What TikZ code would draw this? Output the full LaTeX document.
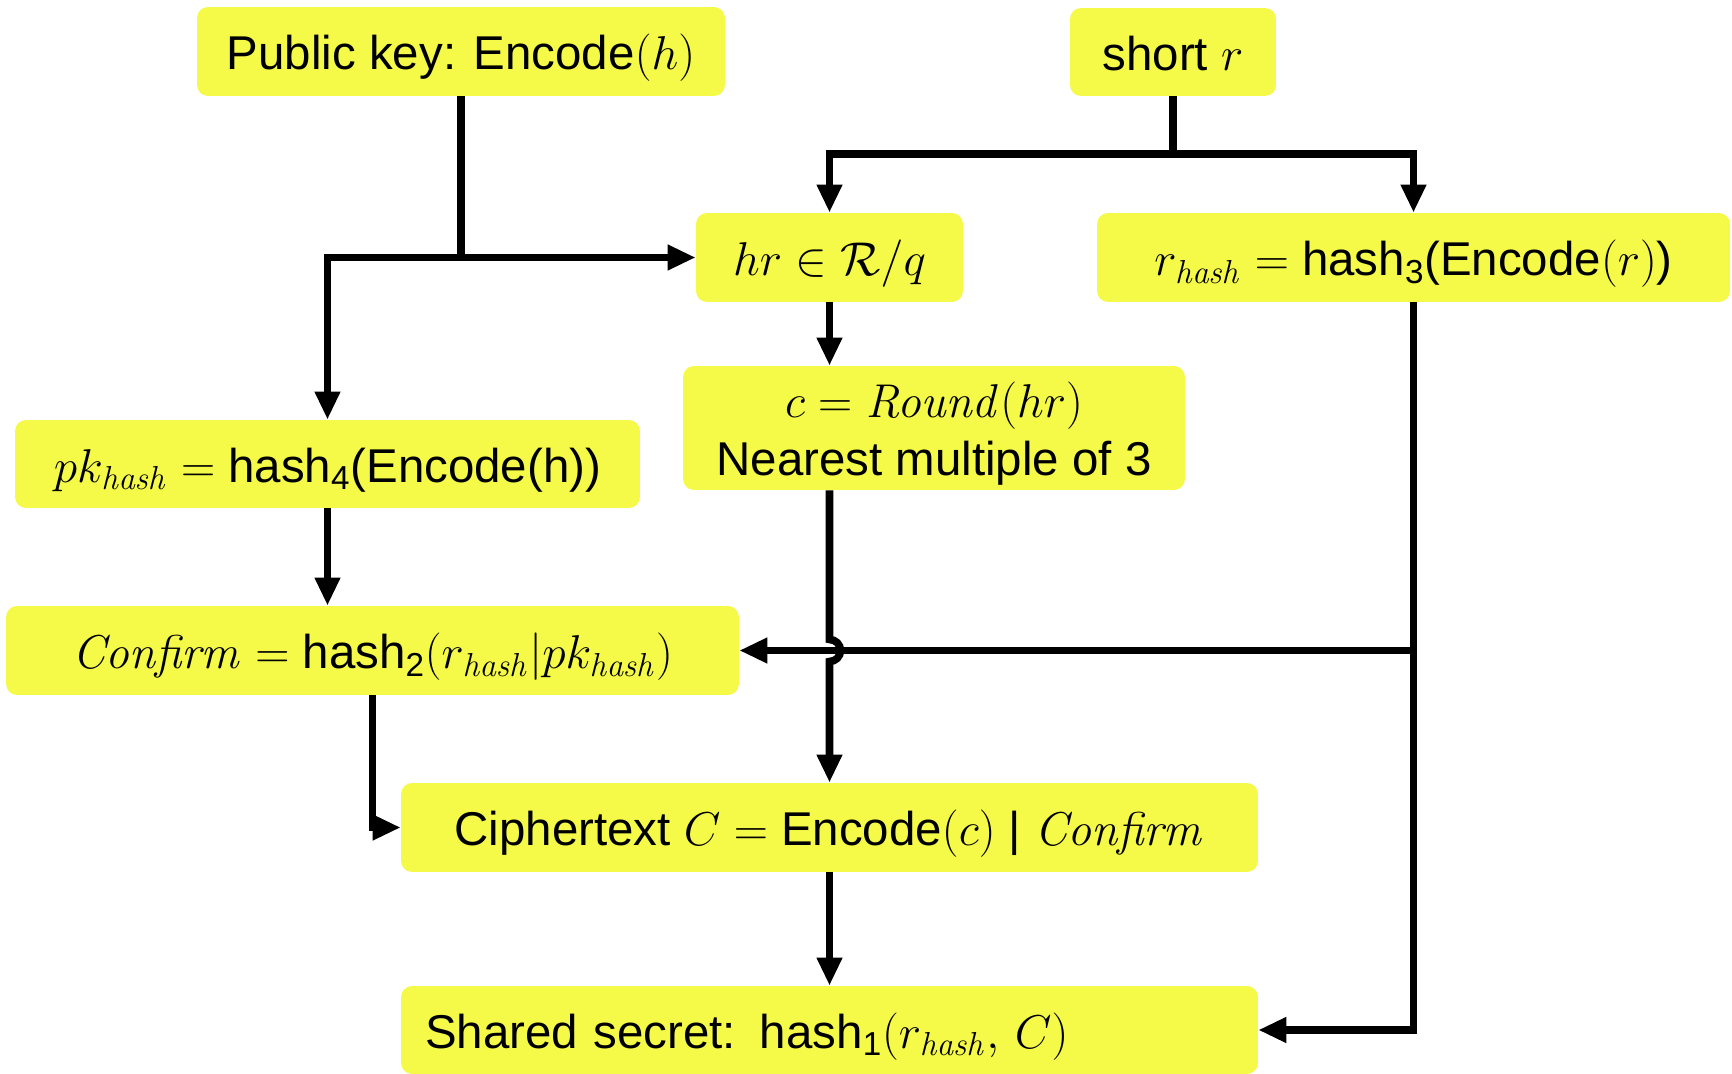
\RequirePackage{fix-cm}
\documentclass[tikz,border=0pt]{standalone}
\usepackage[no-math]{fontspec}
\setmainfont{Liberation Sans}
\usetikzlibrary{arrows.meta}
\definecolor{boxy}{RGB}{245,250,72}
\tikzset{
  box/.style={fill=boxy, rounded corners=0.22cm, inner sep=0pt, align=center,
    font=\fontsize{27}{33}\selectfont, text height=24pt, text depth=3pt},
  wire/.style={line width=4.3pt, draw=black},
  conn/.style={wire, -{Triangle[length=0.56cm,width=0.48cm]}},
  conn2/.style={wire, {Triangle[length=0.56cm,width=0.48cm]}-{Triangle[length=0.56cm,width=0.48cm]}},
}
\newcommand{\hsh}{\mathit{hash}}
\begin{document}
\begin{tikzpicture}[x=0.02cm,y=-0.02cm]
\useasboundingbox (0,0) rectangle (1732,1074);
\node[box, minimum width=10.56cm, minimum height=1.78cm] (pub) at (461,51.5) {Public key: Encode$(h)$};
\node[box, minimum width=4.12cm, minimum height=1.76cm] (short) at (1173,52) {short $r$};
\node[box, minimum width=5.34cm, minimum height=1.78cm] (hr) at (829.5,257.5) {$hr \in \mathcal{R}/q$};
\node[box, minimum width=12.66cm, minimum height=1.78cm] (rh) at (1413.5,257.5) {$r_{\hsh} =$ hash\textsubscript{3}(Encode$(r)$)};
\node[box, minimum width=10.04cm, minimum height=2.48cm, text height=57pt, text depth=3pt] (c) at (934,428) {$c = \mathit{Round}(hr)$\\Nearest multiple of 3};
\node[box, minimum width=12.5cm, minimum height=1.76cm] (pk) at (327.5,464) {$pk_{\hsh} =$ hash\textsubscript{4}(Encode(h))};
\node[box, minimum width=14.66cm, minimum height=1.78cm] (conf) at (372.5,650.5) {$\mathit{Confirm} =$\ hash\textsubscript{2}$(r_{\hsh}|pk_{\hsh})$};
\node[box, minimum width=17.14cm, minimum height=1.78cm] (ct) at (829.5,827.5) {Ciphertext $C =$\ Encode$(c)$ | $\mathit{Confirm}$};
\node[box, text width=16.18cm, inner xsep=0.48cm, align=left, minimum height=1.76cm] (ss) at (829.5,1030) {Shared secret: hash\textsubscript{1}$(r_{\hsh},\,C)$};

\draw[wire] (pub.south) -- (pub.south |- hr.west);
\draw[conn2] (pk.north) -- (pk.north |- hr.west) -- (hr.west);
\draw[wire] (short.south) -- (short.south |- 0,154);
\draw[conn2] (hr.north) -- (hr.north |- 0,154) -- (rh.north |- 0,154) -- (rh.north);
\draw[conn] (hr.south) -- (hr.south |- c.north);
\draw[conn] (hr.south |- c.south) -- (hr.south |- 0,639.5) arc[start angle=-90,end angle=90,radius=11] -- (ct.north);
\draw[conn] (rh.south) -- (rh.south |- ss.east) -- (ss.east);
\draw[conn] (rh.south |- conf.east) -- (conf.east);
\draw[conn] (pk.south) -- (pk.south |- conf.north);
\draw[conn] (conf.south) -- (conf.south |- ct.west) -- (ct.west);
\draw[conn] (ct.south) -- (ss.north);
\end{tikzpicture}
\end{document}
